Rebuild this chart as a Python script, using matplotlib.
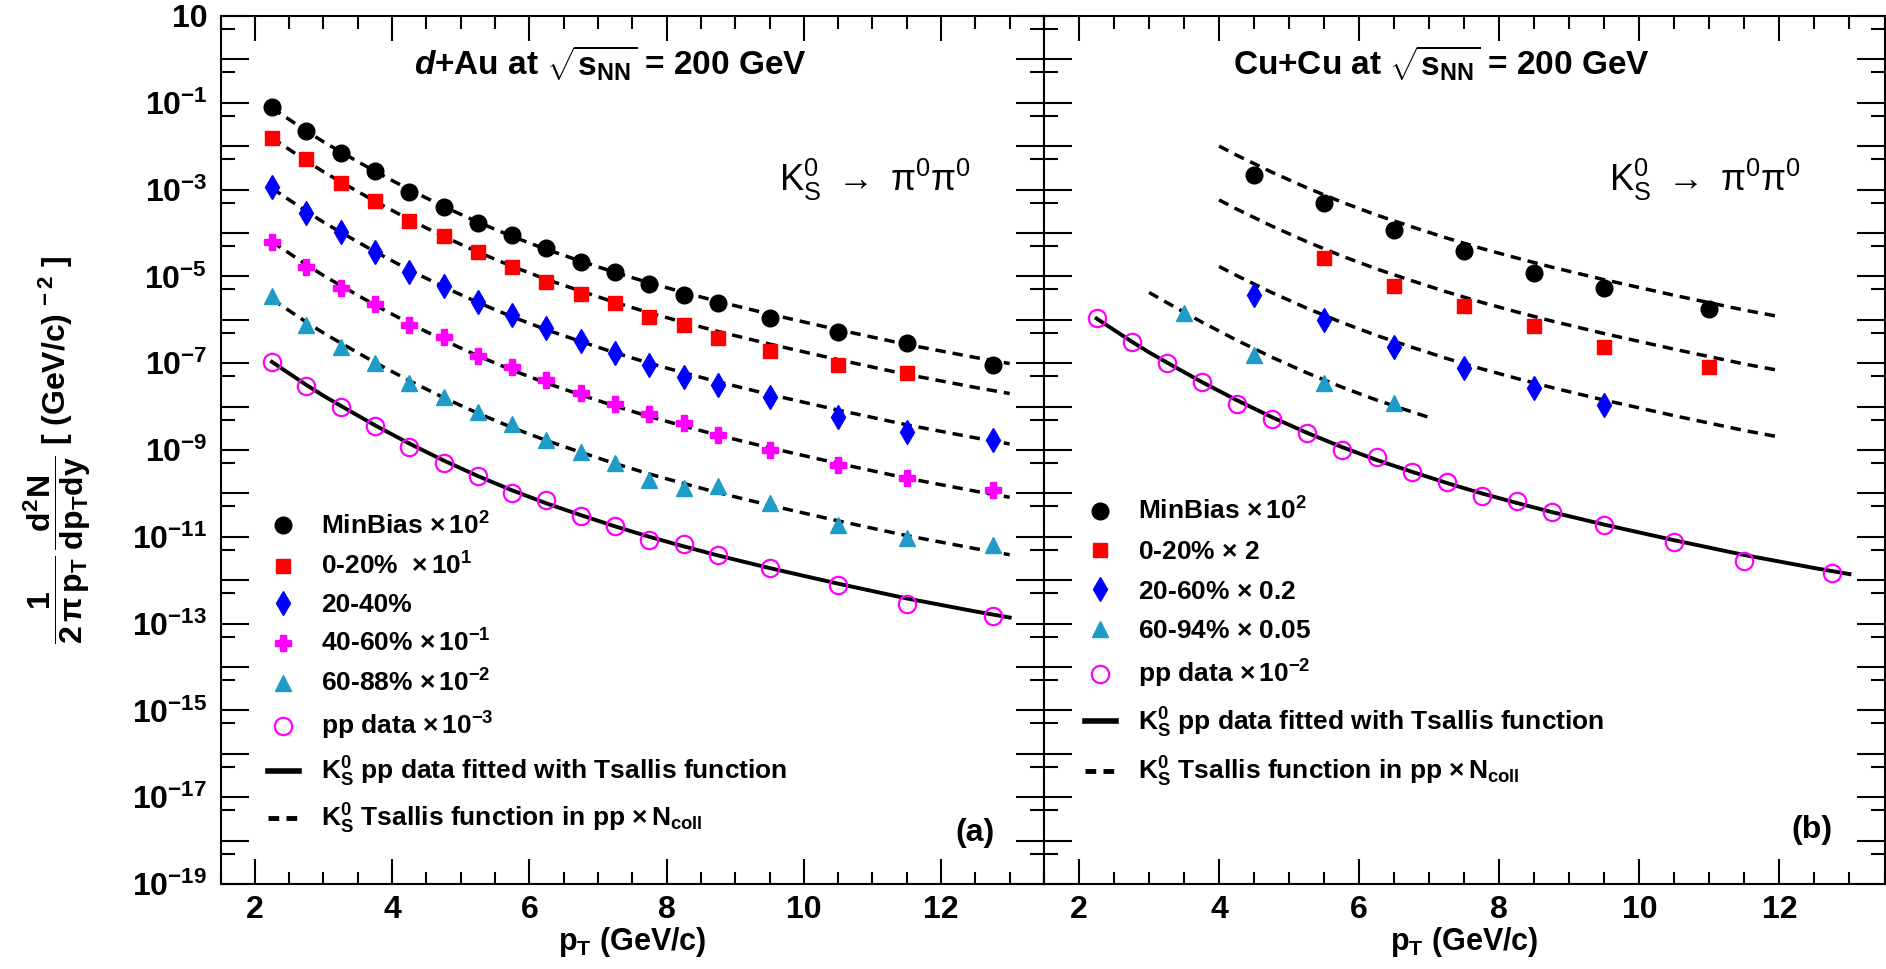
import matplotlib
matplotlib.use("Agg")
import matplotlib.pyplot as plt
from matplotlib.lines import Line2D
import numpy as np

plt.rcParams["font.family"] = ["Liberation Sans", "DejaVu Sans"]
plt.rcParams["font.weight"] = "bold"
plt.rcParams["mathtext.fontset"] = "custom"
plt.rcParams["mathtext.rm"] = "Liberation Sans:bold"
plt.rcParams["mathtext.it"] = "Liberation Sans:italic:bold"
plt.rcParams["mathtext.bf"] = "Liberation Sans:bold"
plt.rcParams["mathtext.default"] = "regular"

# ---- data (log10 of plotted yield, legend factors included) ----
pt_dau = [2.25, 2.75, 3.25, 3.75, 4.25, 4.75, 5.25, 5.75, 6.25, 6.75,
          7.25, 7.75, 8.25, 8.75, 9.5, 10.5, 11.5, 12.75]

dau_mb = [-1.10, -1.65, -2.15, -2.56, -3.05, -3.39, -3.76, -4.05, -4.35, -4.66,
          -4.91, -5.18, -5.43, -5.61, -5.97, -6.27, -6.54, -7.04]
dau_0_20 = [-1.82, -2.30, -2.84, -3.26, -3.72, -4.07, -4.43, -4.78, -5.12, -5.41,
            -5.62, -5.93, -6.12, -6.43, -6.71, -7.03, -7.23]
dau_20_40 = [-2.95, -3.53, -3.97, -4.43, -4.91, -5.22, -5.58, -5.89, -6.20, -6.48,
             -6.76, -7.03, -7.31, -7.50, -7.77, -8.23, -8.58, -8.77]
dau_40_60 = [-4.20, -4.78, -5.27, -5.64, -6.12, -6.40, -6.83, -7.08, -7.39, -7.68,
             -7.94, -8.18, -8.38, -8.65, -9.00, -9.35, -9.65, -9.92]
dau_60_88 = [-5.45, -6.12, -6.62, -7.00, -7.46, -7.79, -8.12, -8.40, -8.77, -9.04,
             -9.31, -9.68, -9.87, -9.82, -10.23, -10.73, -11.03, -11.19]

# pp data without the legend factor (same points in both panels)
pp_yield = [-3.97, -4.52, -5.00, -5.44, -5.94, -6.29, -6.60, -7.00, -7.15, -7.51,
            -7.74, -8.07, -8.17, -8.43, -8.73, -9.11, -9.55, -9.83]

cucu_mb_pt = [4.5, 5.5, 6.5, 7.5, 8.5, 9.5, 11.0]
cucu_mb = [-2.66, -3.30, -3.92, -4.41, -4.93, -5.27, -5.76]
cucu_0_20_pt = [5.5, 6.5, 7.5, 8.5, 9.5, 11.0]
cucu_0_20 = [-4.58, -5.22, -5.68, -6.14, -6.62, -7.08]
cucu_20_60_pt = [4.5, 5.5, 6.5, 7.5, 8.5, 9.5]
cucu_20_60 = [-5.43, -6.00, -6.62, -7.12, -7.56, -7.96]
cucu_60_94_pt = [3.5, 4.5, 5.5, 6.5]
cucu_60_94 = [-5.85, -6.81, -7.45, -7.92]

# Tsallis fit to pp (no factor)
fit_pt = [2.25, 2.75, 3.0, 3.25, 3.75, 4.0, 4.25, 4.75, 5.25, 5.75, 6.25, 6.75,
          7.0, 7.25, 7.75, 8.25, 8.75, 9.5, 10.5, 11.5, 12.0, 12.5, 13.0]
fit_yield = [-3.97, -4.50, -4.75, -4.98, -5.43, -5.64, -5.85, -6.24, -6.60, -6.93,
             -7.23, -7.50, -7.63, -7.76, -8.00, -8.22, -8.43, -8.72, -9.08, -9.42,
             -9.57, -9.72, -9.86]

# legend factors, Ncoll and pT range of the dashed curves
dau_factor = [1e2, 1e1, 1.0, 1e-1, 1e-2]
dau_ncoll = [7.1, 14.5, 10.0, 5.9, 2.8]
dau_range = [(2.25, 13.0)] * 5
dau_pp_factor = 1e-3

cucu_factor = [1e2, 2.0, 0.2, 0.05]
cucu_ncoll = [44.0, 126.0, 37.0, 4.8]
cucu_range = [(4.0, 12.0), (4.0, 12.0), (4.0, 12.0), (3.0, 7.0)]
cucu_pp_factor = 1e-2

dau_labels = [r"MinBias $\times\,10^{2}$", r"0-20%  $\times\,10^{1}$", "20-40%",
              r"40-60% $\times\,10^{-1}$", r"60-88% $\times\,10^{-2}$",
              r"pp data $\times\,10^{-3}$"]
cucu_labels = [r"MinBias $\times\,10^{2}$", r"0-20% $\times$ 2", r"20-60% $\times$ 0.2",
               r"60-94% $\times$ 0.05", r"pp data $\times\,10^{-2}$"]
fit_label = r"$K^{0}_{S}$ pp data fitted with Tsallis function"
ncoll_label = r"$K^{0}_{S}$ Tsallis function in pp $\times\,N_{coll}$"

x_major = [2, 4, 6, 8, 10, 12]
x_minor = np.arange(1.5, 13.6, 0.5)
y_exp = list(range(1, -20, -1))

cyan = "#1f9bc8"
styles = [dict(marker="o", color="black", ms=12),
          dict(marker="s", color="red", ms=10.5),
          dict(marker="d", color="blue", ms=12.5),
          dict(marker="P", color="magenta", ms=12),
          dict(marker="^", color=cyan, ms=12)]
cucu_styles = [styles[0], styles[1], styles[2], styles[4]]

dash = (0, (3.0, 2.0))

fig = plt.figure(figsize=(18.86, 9.69), dpi=100)
W, H = 1886.0, 969.0
ax_l = fig.add_axes([220.5 / W, 85 / H, 823.5 / W, 868 / H])
ax_r = fig.add_axes([1044 / W, 85 / H, 840.5 / W, 868 / H])

fit_pt_a = np.array(fit_pt)
fit_val = np.power(10.0, fit_yield)

# legend-only line samples (thicker, like the reference key)
key_solid = Line2D([], [], color="black", lw=4)
key_dash = Line2D([], [], color="black", lw=3.5, linestyle=(0, (2.2, 1.5)))


def style_axes(ax, show_ylabels):
    ax.set_yscale("log")
    ax.set_xlim(1.5, 13.5)
    ax.set_ylim(1e-19, 10)
    ax.set_xticks(x_major)
    ax.set_xticks(x_minor, minor=True)
    ax.set_yticks([10.0 ** e for e in y_exp])
    ax.set_yticks([5 * 10.0 ** e for e in range(0, -20, -1)], minor=True)
    ax.yaxis.set_minor_formatter(matplotlib.ticker.NullFormatter())
    labels = []
    for e in y_exp:
        if e == 1:
            labels.append("10")
        elif e % 2:
            labels.append(r"$10^{%d}$" % e)
        else:
            labels.append("")
    ax.set_yticklabels(labels)
    ax.tick_params(which="both", direction="in", top=True, right=True, width=1.5,
                   labelsize=23)
    ax.tick_params(axis="x", which="major", length=18, pad=8)
    ax.tick_params(axis="x", which="minor", length=9)
    ax.tick_params(axis="y", which="major", length=20, pad=9.5)
    ax.tick_params(axis="y", which="minor", length=10)
    ax.tick_params(labelleft=show_ylabels)
    for sp in ax.spines.values():
        sp.set_linewidth(1.5)
    ax.text(0.5, -0.067, r"p$_{T}$ (GeV/c)", transform=ax.transAxes,
            ha="center", va="center", fontsize=22)


# ---- left panel: d+Au ----
ax = ax_l
dau_series = [dau_mb, dau_0_20, dau_20_40, dau_40_60, dau_60_88]
handles = []
for vals, st, f, nc, rng in zip(dau_series, styles, dau_factor, dau_ncoll, dau_range):
    sel = (fit_pt_a >= rng[0]) & (fit_pt_a <= rng[1])
    ax.plot(fit_pt_a[sel], fit_val[sel] * f * nc, color="black", lw=2.5,
            linestyle=dash, zorder=2)
    h, = ax.plot(pt_dau[:len(vals)], np.power(10.0, vals), linestyle="none",
                 marker=st["marker"], color=st["color"], ms=st["ms"], zorder=3)
    handles.append(h)
h_pp, = ax.plot(pt_dau, np.power(10.0, pp_yield) * dau_pp_factor, linestyle="none",
                marker="o", mfc="none", mec="magenta", mew=1.6, ms=12.5, zorder=3)
ax.plot(fit_pt, fit_val * dau_pp_factor, color="black", lw=2.8, zorder=2)
handles += [h_pp, key_solid, key_dash]
ax.legend(handles, dau_labels + [fit_label, ncoll_label], loc="upper left",
          bbox_to_anchor=(0.058, 0.428), frameon=False, fontsize=19,
          handlelength=1.15, handletextpad=0.85, labelspacing=0.49,
          borderpad=0, borderaxespad=0)
style_axes(ax, True)
ax.text(0.473, 0.946, r"$\mathit{d}$+Au at $\sqrt{s_{NN}}$ = 200 GeV",
        transform=ax.transAxes, ha="center", va="center", fontsize=24)
ax.text(0.795, 0.811, r"$K^{0}_{S}$ $\rightarrow$ $\pi^{0}\pi^{0}$", transform=ax.transAxes,
        ha="center", va="center", fontsize=26, fontweight="normal")
ax.text(0.916, 0.059, "(a)", transform=ax.transAxes, ha="center", va="center",
        fontsize=23)

# ---- right panel: Cu+Cu ----
ax = ax_r
cucu_series = [(cucu_mb_pt, cucu_mb), (cucu_0_20_pt, cucu_0_20),
               (cucu_20_60_pt, cucu_20_60), (cucu_60_94_pt, cucu_60_94)]
handles = []
for (pts, vals), st, f, nc, rng in zip(cucu_series, cucu_styles, cucu_factor,
                                       cucu_ncoll, cucu_range):
    sel = (fit_pt_a >= rng[0]) & (fit_pt_a <= rng[1])
    ax.plot(fit_pt_a[sel], fit_val[sel] * f * nc, color="black", lw=2.5,
            linestyle=dash, zorder=2)
    h, = ax.plot(pts, np.power(10.0, vals), linestyle="none", marker=st["marker"],
                 color=st["color"], ms=st["ms"], zorder=3)
    handles.append(h)
h_pp, = ax.plot(pt_dau, np.power(10.0, pp_yield) * cucu_pp_factor, linestyle="none",
                marker="o", mfc="none", mec="magenta", mew=1.6, ms=12.5, zorder=3)
ax.plot(fit_pt, fit_val * cucu_pp_factor, color="black", lw=2.8, zorder=2)
handles += [h_pp, key_solid, key_dash]
ax.legend(handles, cucu_labels + [fit_label, ncoll_label], loc="upper left",
          bbox_to_anchor=(0.049, 0.445), frameon=False, fontsize=19,
          handlelength=1.15, handletextpad=0.85, labelspacing=0.58,
          borderpad=0, borderaxespad=0)
style_axes(ax, False)
ax.text(0.473, 0.946, r"Cu+Cu at $\sqrt{s_{NN}}$ = 200 GeV",
        transform=ax.transAxes, ha="center", va="center", fontsize=24)
ax.text(0.786, 0.811, r"$K^{0}_{S}$ $\rightarrow$ $\pi^{0}\pi^{0}$", transform=ax.transAxes,
        ha="center", va="center", fontsize=26, fontweight="normal")
ax.text(0.914, 0.062, "(b)", transform=ax.transAxes, ha="center", va="center",
        fontsize=23)

# y axis title
fig.text(57 / W, 1 - 450 / H,
         r"$\dfrac{1}{2\,\pi\,p_{T}}\,\dfrac{d^{2}N}{dp_{T}dy}$ [ (GeV/c)$^{\,-2}$ ]",
         rotation=90, ha="center", va="center", fontsize=23)

fig.savefig("out.png", dpi=100)
